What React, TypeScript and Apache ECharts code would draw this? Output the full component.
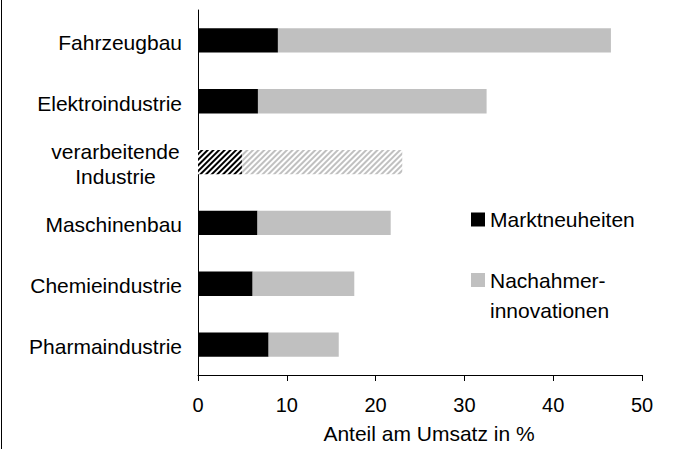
import React, { useEffect, useRef } from "react";
import * as echarts from "echarts";

const categories = [
  "Fahrzeugbau",
  "Elektroindustrie",
  "verarbeitende\nIndustrie",
  "Maschinenbau",
  "Chemieindustrie",
  "Pharmaindustrie",
];
const marktneuheiten = [9.0, 6.75, 4.95, 6.7, 6.15, 7.95];
const nachahmer = [37.5, 25.75, 18.05, 15.0, 11.45, 7.9];
const hatchedIndex = 2;
const xTicks = [0, 10, 20, 30, 40, 50];

const FONT = "'Liberation Sans', Arial, sans-serif";
const BLACK = "#000000";
const GRAY = "#c0c0c0";

function decal(color: string) {
  return {
    symbol: "rect",
    symbolSize: 1,
    color,
    dashArrayX: [1, 0],
    dashArrayY: [2, 2],
    rotation: -Math.PI / 4,
  };
}

export default function App() {
  const ref = useRef<HTMLDivElement>(null);
  useEffect(() => {
    if (!ref.current) return;
    const chart = echarts.init(ref.current, undefined, { renderer: "svg" });
    const s1 = marktneuheiten.map((v, i) =>
      i === hatchedIndex
        ? { value: v, itemStyle: { color: "#ffffff", decal: decal(BLACK) } }
        : v
    );
    const s2 = nachahmer.map((v, i) =>
      i === hatchedIndex
        ? { value: v, itemStyle: { color: "#ffffff", decal: decal(GRAY) } }
        : v
    );
    chart.setOption({
      animation: false,
      textStyle: { fontFamily: FONT },
      grid: { left: 198, right: 36, top: 10, bottom: 65, containLabel: false },
      xAxis: {
        type: "value",
        min: xTicks[0],
        max: xTicks[xTicks.length - 1],
        interval: 10,
        splitLine: { show: false },
        axisLine: { show: true, lineStyle: { color: BLACK, width: 1 } },
        axisTick: { show: true, length: 6, lineStyle: { color: BLACK } },
        axisLabel: { color: BLACK, fontSize: 20, margin: 20, fontFamily: FONT },
        name: "Anteil am Umsatz in %",
        nameLocation: "middle",
        nameGap: 48,
        nameTextStyle: { color: BLACK, fontSize: 21, fontFamily: FONT, padding: [0, 0, 0, 18] },
      },
      yAxis: {
        type: "category",
        data: categories,
        inverse: true,
        axisLine: { show: true, lineStyle: { color: BLACK, width: 1 } },
        axisTick: { show: false },
        axisLabel: {
          color: BLACK,
          fontSize: 21,
          margin: 16,
          fontFamily: FONT,
          padding: [4, 0, 0, 0],
          formatter: (val: string) => {
            if (val.indexOf("\n") >= 0) {
              const parts = val.split("\n");
              return parts.map((p) => "{c|" + p + "}").join("\n");
            }
            return val;
          },
          rich: {
            c: {
              width: 133,
              align: "center",
              fontSize: 21,
              fontFamily: FONT,
              color: BLACK,
              lineHeight: 25,
            },
          },
        },
      },
      legend: [
        {
          data: ["Marktneuheiten"],
          orient: "vertical",
          left: 466,
          top: 204,
          itemWidth: 14,
          itemHeight: 14,
          icon: "rect",
          textStyle: { fontSize: 21, color: BLACK, fontFamily: FONT, padding: [0, 0, 10, 0] },
        },
        {
          data: ["Nachahmerinnovationen"],
          orient: "vertical",
          left: 466,
          top: 228,
          itemWidth: 14,
          itemHeight: 14,
          icon: "rect",
          formatter: () => "\nNachahmer-\ninnovationen",
          textStyle: { fontSize: 21, color: BLACK, fontFamily: FONT, lineHeight: 30, padding: [0, 0, 4, 0] },
        },
      ],
      graphic: [
        {
          type: "line",
          shape: { x1: 1.5, y1: 0, x2: 1.5, y2: 449 },
          style: { stroke: BLACK, lineWidth: 1 },
        },
      ],
      series: [
        {
          name: "Marktneuheiten",
          type: "bar",
          stack: "total",
          barCategoryGap: "60%",
          itemStyle: { color: BLACK },
          data: s1,
        },
        {
          name: "Nachahmerinnovationen",
          type: "bar",
          stack: "total",
          barCategoryGap: "60%",
          itemStyle: { color: GRAY },
          data: s2,
        },
      ],
    });
    return () => chart.dispose();
  }, []);
  return (
    <div
      ref={ref}
      style={{ position: "absolute", left: 0, top: 0, width: 678, height: 449, background: "#fff" }}
    />
  );
}
